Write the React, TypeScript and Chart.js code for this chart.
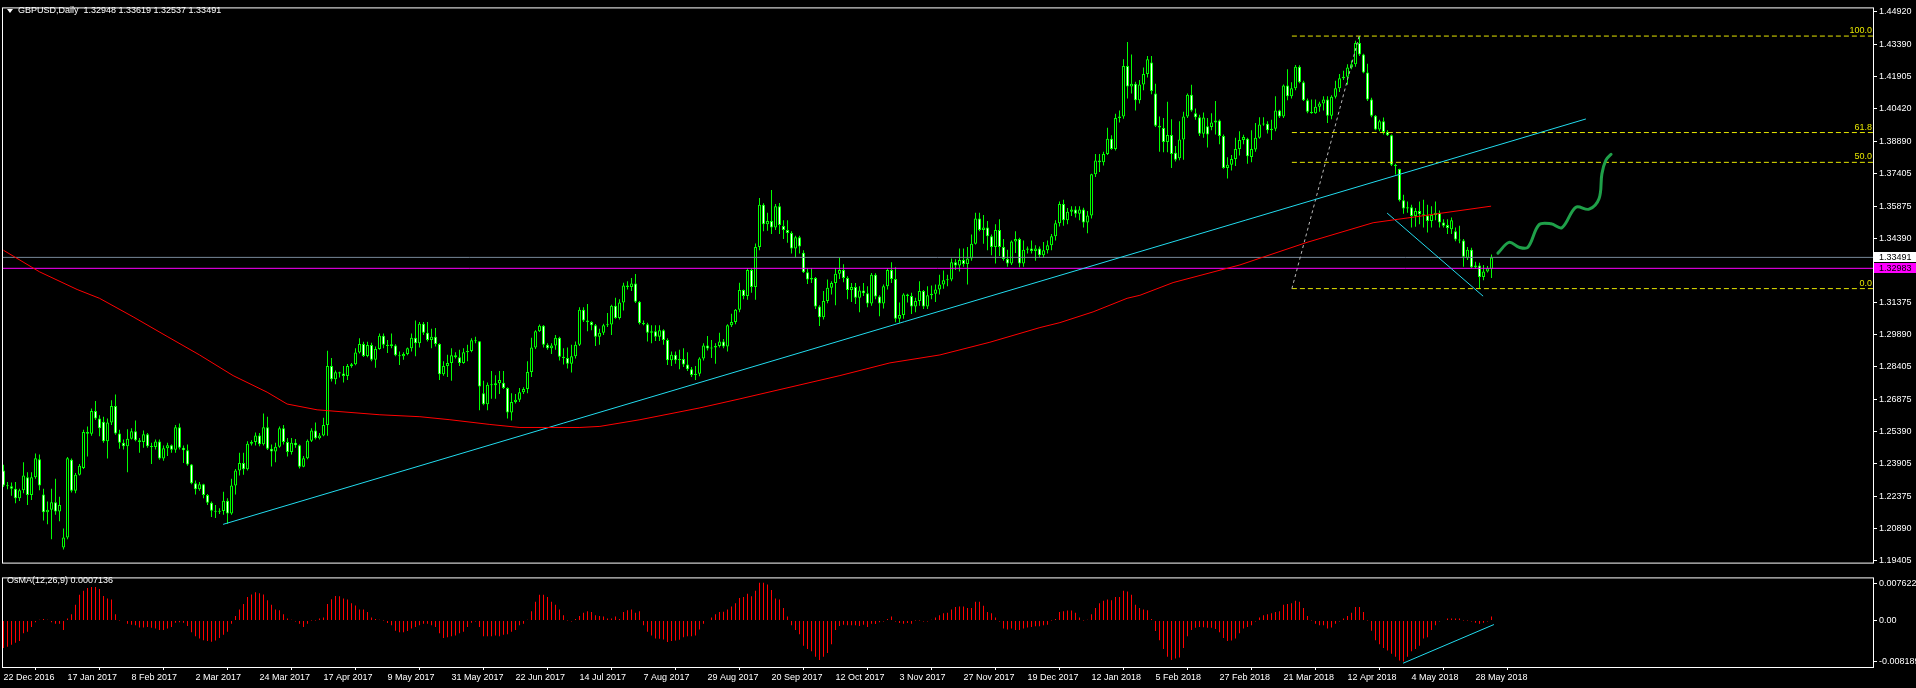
import React, { useEffect, useRef } from 'react';
import { Chart, registerables } from 'chart.js';

Chart.register(...registerables);

const W = 1916;
const MAIN_H = 570;
const OSMA_H = 118;
const AXIS_W = 43;
const X_MIN = -0.375;
const X_MAX = 467.375;
const FONT = "'Liberation Sans', Arial, sans-serif";

const headerText = 'GBPUSD,Daily  1.32948 1.33619 1.32537 1.33491';
const osmaTitle = 'OsMA(12,26,9) 0.0007136';

const dateLabels = ['22 Dec 2016', '17 Jan 2017', '8 Feb 2017', '2 Mar 2017', '24 Mar 2017', '17 Apr 2017', '9 May 2017', '31 May 2017', '22 Jun 2017', '14 Jul 2017', '7 Aug 2017', '29 Aug 2017', '20 Sep 2017', '12 Oct 2017', '3 Nov 2017', '27 Nov 2017', '19 Dec 2017', '12 Jan 2018', '5 Feb 2018', '27 Feb 2018', '21 Mar 2018', '12 Apr 2018', '4 May 2018', '28 May 2018'];
const dateStep = 16;

const priceTicks = [1.4492, 1.4339, 1.41905, 1.4042, 1.3889, 1.37405, 1.35875, 1.3439, 1.32875, 1.31375, 1.2989, 1.28405, 1.26875, 1.2539, 1.23905, 1.22375, 1.2089, 1.19405];
const osmaAxisLabels = ['0.007622', '0.00', '-0.008189'];
const osmaAxisTicks = [0.00662, 0, -0.00719];

const opens = [
  1.2359, 1.2290, 1.2286, 1.2275, 1.2230, 1.2268, 1.2328, 1.2245, 1.2328, 1.2412,
  1.2248, 1.2165, 1.2177, 1.2212, 1.2169, 1.2002, 1.2048, 1.2409, 1.2265, 1.2340,
  1.2371, 1.2538, 1.2530, 1.2636, 1.2601, 1.2586, 1.2495, 1.2582, 1.2659, 1.2531,
  1.2488, 1.2472, 1.2507, 1.2542, 1.2500, 1.2492, 1.2527, 1.2472, 1.2468, 1.2494,
  1.2415, 1.2462, 1.2477, 1.2456, 1.2560, 1.2465, 1.2453, 1.2387, 1.2300, 1.2272,
  1.2295, 1.2245, 1.2209, 1.2172, 1.2168, 1.2171, 1.2219, 1.2160, 1.2290, 1.2359,
  1.2394, 1.2365, 1.2484, 1.2491, 1.2522, 1.2481, 1.2560, 1.2460, 1.2447, 1.2469,
  1.2556, 1.2491, 1.2445, 1.2488, 1.2477, 1.2377, 1.2416, 1.2497, 1.2545, 1.2509,
  1.2522, 1.2571, 1.2845, 1.2783, 1.2815, 1.2810, 1.2798, 1.2844, 1.2853, 1.2907,
  1.2947, 1.2891, 1.2942, 1.2874, 1.2924, 1.2985, 1.2943, 1.2938, 1.2940, 1.2894,
  1.2890, 1.2900, 1.2927, 1.2976, 1.2950, 1.3041, 1.2999, 1.2965, 1.2980, 1.2947,
  1.2806, 1.2844, 1.2859, 1.2894, 1.2885, 1.2859, 1.2909, 1.2914, 1.2964, 1.2959,
  1.2718, 1.2667, 1.2758, 1.2755, 1.2764, 1.2767, 1.2742, 1.2629, 1.2677, 1.2688,
  1.2723, 1.2738, 1.2817, 1.2930, 1.3006, 1.3031, 1.2943, 1.2927, 1.2940, 1.2976,
  1.2887, 1.2882, 1.2855, 1.2890, 1.2943, 1.3106, 1.3056, 1.3049, 1.3034, 1.2980,
  1.2999, 1.3034, 1.3037, 1.3125, 1.3067, 1.3140, 1.3219, 1.3212, 1.3228, 1.3143,
  1.3044, 1.3038, 1.2999, 1.3006, 1.2980, 1.3011, 1.2965, 1.2871, 1.2897, 1.2871,
  1.2877, 1.2852, 1.2829, 1.2803, 1.2809, 1.2879, 1.2940, 1.2926, 1.2930, 1.2937,
  1.2958, 1.2935, 1.3034, 1.3049, 1.3106, 1.3197, 1.3170, 1.3291, 1.3212, 1.3397,
  1.3594, 1.3503, 1.3518, 1.3488, 1.3587, 1.3495, 1.3476, 1.3462, 1.3390, 1.3443,
  1.3371, 1.3280, 1.3246, 1.3253, 1.3121, 1.3071, 1.3147, 1.3208, 1.3230, 1.3273,
  1.3291, 1.3253, 1.3197, 1.3211, 1.3162, 1.3195, 1.3182, 1.3135, 1.3268, 1.3167,
  1.3135, 1.3215, 1.3291, 1.3249, 1.3064, 1.3082, 1.3177, 1.3170, 1.3121, 1.3147,
  1.3193, 1.3121, 1.3173, 1.3180, 1.3200, 1.3223, 1.3243, 1.3246, 1.3326, 1.3311,
  1.3337, 1.3318, 1.3344, 1.3412, 1.3530, 1.3476, 1.3488, 1.3447, 1.3397, 1.3476,
  1.3397, 1.3341, 1.3321, 1.3423, 1.3435, 1.3321, 1.3385, 1.3390, 1.3379, 1.3390,
  1.3359, 1.3382, 1.3405, 1.3447, 1.3508, 1.3597, 1.3521, 1.3561, 1.3572, 1.3552,
  1.3572, 1.3511, 1.3544, 1.3735, 1.3799, 1.3791, 1.3829, 1.3900, 1.3852, 1.3996,
  1.4003, 1.4238, 1.4143, 1.4155, 1.4079, 1.4152, 1.4201, 1.4254, 1.4110, 1.3961,
  1.3950, 1.3885, 1.3917, 1.3835, 1.3810, 1.3897, 1.4003, 1.4105, 1.4019, 1.4000,
  1.3923, 1.3958, 1.3955, 1.3976, 1.3985, 1.3913, 1.3764, 1.3779, 1.3806, 1.3852,
  1.3894, 1.3900, 1.3815, 1.3850, 1.3905, 1.3966, 1.3970, 1.3940, 1.3946, 1.4031,
  1.4003, 1.4147, 1.4097, 1.4135, 1.4235, 1.4163, 1.4079, 1.4026, 1.4019, 1.4049,
  1.4064, 1.4082, 1.4007, 1.4095, 1.4135, 1.4181, 1.4188, 1.4231, 1.4246, 1.4345,
  1.4292, 1.4208, 1.4082, 1.4007, 1.3943, 1.3981, 1.3931, 1.3916, 1.3779, 1.3760,
  1.3614, 1.3576, 1.3582, 1.3541, 1.3564, 1.3549, 1.3544, 1.3518, 1.3546, 1.3556,
  1.3511, 1.3500, 1.3480, 1.3470, 1.3432, 1.3427, 1.3345, 1.3385, 1.3303, 1.3311,
  1.3258, 1.3283, 1.32948,
];

const highs = [
  1.2386, 1.2306, 1.2303, 1.2306, 1.2275, 1.2397, 1.2351, 1.2351, 1.2438, 1.2434,
  1.2275, 1.2215, 1.2275, 1.2321, 1.2237, 1.2090, 1.2422, 1.2415, 1.2348, 1.2389,
  1.2548, 1.2563, 1.2647, 1.2682, 1.2616, 1.2609, 1.2601, 1.2685, 1.2712, 1.2548,
  1.2503, 1.2551, 1.2556, 1.2591, 1.2510, 1.2545, 1.2533, 1.2488, 1.2503, 1.2503,
  1.2475, 1.2488, 1.2480, 1.2571, 1.2578, 1.2475, 1.2480, 1.2389, 1.2313, 1.2306,
  1.2298, 1.2250, 1.2215, 1.2199, 1.2184, 1.2260, 1.2230, 1.2321, 1.2366, 1.2442,
  1.2442, 1.2495, 1.2500, 1.2536, 1.2533, 1.2624, 1.2609, 1.2480, 1.2488, 1.2563,
  1.2571, 1.2510, 1.2510, 1.2506, 1.2480, 1.2427, 1.2503, 1.2556, 1.2582, 1.2533,
  1.2604, 1.2915, 1.2882, 1.2824, 1.2818, 1.2844, 1.2854, 1.2859, 1.2927, 1.2973,
  1.2957, 1.2957, 1.2953, 1.2935, 1.2995, 1.2996, 1.2965, 1.2996, 1.2946, 1.2912,
  1.2909, 1.2930, 1.2996, 1.3056, 1.3049, 1.3049, 1.3049, 1.3018, 1.3021, 1.2950,
  1.2867, 1.2897, 1.2927, 1.2909, 1.2920, 1.2927, 1.2943, 1.2973, 1.2980, 1.2961,
  1.2776, 1.2768, 1.2821, 1.2802, 1.2821, 1.2821, 1.2746, 1.2718, 1.2715, 1.2742,
  1.2746, 1.2867, 1.2976, 1.3011, 1.3037, 1.3035, 1.2950, 1.2950, 1.2988, 1.2980,
  1.2927, 1.2930, 1.2943, 1.2958, 1.3117, 1.3117, 1.3132, 1.3052, 1.3040, 1.3018,
  1.3041, 1.3091, 1.3129, 1.3162, 1.3155, 1.3231, 1.3238, 1.3253, 1.3272, 1.3147,
  1.3056, 1.3046, 1.3034, 1.3034, 1.3034, 1.3015, 1.2973, 1.2912, 1.2912, 1.2920,
  1.2927, 1.2909, 1.2840, 1.2844, 1.2885, 1.2950, 1.2984, 1.2965, 1.2950, 1.2999,
  1.2970, 1.3038, 1.3087, 1.3109, 1.3231, 1.3200, 1.3299, 1.3300, 1.3413, 1.3625,
  1.3600, 1.3556, 1.3662, 1.3597, 1.3602, 1.3521, 1.3521, 1.3470, 1.3450, 1.3450,
  1.3382, 1.3299, 1.3299, 1.3258, 1.3127, 1.3193, 1.3246, 1.3238, 1.3299, 1.3347,
  1.3317, 1.3261, 1.3230, 1.3230, 1.3215, 1.3230, 1.3215, 1.3276, 1.3275, 1.3173,
  1.3223, 1.3299, 1.3327, 1.3303, 1.3139, 1.3182, 1.3180, 1.3185, 1.3162, 1.3238,
  1.3198, 1.3215, 1.3218, 1.3223, 1.3268, 1.3288, 1.3268, 1.3344, 1.3340, 1.3390,
  1.3390, 1.3397, 1.3455, 1.3556, 1.3556, 1.3546, 1.3518, 1.3455, 1.3503, 1.3526,
  1.3435, 1.3385, 1.3427, 1.3470, 1.3440, 1.3427, 1.3400, 1.3427, 1.3405, 1.3400,
  1.3420, 1.3427, 1.3458, 1.3521, 1.3609, 1.3617, 1.3579, 1.3587, 1.3587, 1.3587,
  1.3580, 1.3564, 1.3738, 1.3829, 1.3829, 1.3840, 1.3951, 1.3916, 1.4016, 1.4031,
  1.4269, 1.4349, 1.4292, 1.4165, 1.4173, 1.4231, 1.4284, 1.4284, 1.4155, 1.4003,
  1.3996, 1.4072, 1.3991, 1.3867, 1.3981, 1.4026, 1.4110, 1.4151, 1.4041, 1.4011,
  1.4022, 1.3996, 1.4019, 1.4076, 1.3990, 1.3920, 1.3814, 1.3825, 1.3905, 1.3935,
  1.3919, 1.3905, 1.3940, 1.3973, 1.4000, 1.4000, 1.3981, 1.3988, 1.4097, 1.4035,
  1.4152, 1.4223, 1.4163, 1.4243, 1.4242, 1.4170, 1.4087, 1.4082, 1.4082, 1.4072,
  1.4097, 1.4097, 1.4102, 1.4170, 1.4201, 1.4216, 1.4246, 1.4264, 1.4355, 1.4377,
  1.4295, 1.4249, 1.4091, 1.4010, 1.3988, 1.3999, 1.3940, 1.3920, 1.3784, 1.3761,
  1.3640, 1.3609, 1.3594, 1.3579, 1.3609, 1.3617, 1.3594, 1.3587, 1.3609, 1.3567,
  1.3526, 1.3526, 1.3534, 1.3488, 1.3496, 1.3435, 1.3397, 1.3394, 1.3329, 1.3324,
  1.3314, 1.3309, 1.33619,
];

const lows = [
  1.2283, 1.2272, 1.2242, 1.2207, 1.2218, 1.2253, 1.2199, 1.2222, 1.2321, 1.2268,
  1.2127, 1.2109, 1.2040, 1.2154, 1.2124, 1.1992, 1.2040, 1.2257, 1.2253, 1.2336,
  1.2366, 1.2424, 1.2521, 1.2594, 1.2518, 1.2488, 1.2415, 1.2571, 1.2525, 1.2460,
  1.2457, 1.2351, 1.2503, 1.2495, 1.2442, 1.2465, 1.2465, 1.2389, 1.2457, 1.2409,
  1.2404, 1.2427, 1.2442, 1.2442, 1.2457, 1.2394, 1.2381, 1.2295, 1.2248, 1.2265,
  1.2230, 1.2199, 1.2143, 1.2139, 1.2157, 1.2154, 1.2112, 1.2154, 1.2248, 1.2336,
  1.2339, 1.2359, 1.2475, 1.2475, 1.2472, 1.2475, 1.2454, 1.2378, 1.2397, 1.2465,
  1.2480, 1.2424, 1.2434, 1.2465, 1.2369, 1.2374, 1.2412, 1.2491, 1.2503, 1.2503,
  1.2518, 1.2521, 1.2773, 1.2760, 1.2791, 1.2768, 1.2779, 1.2836, 1.2848, 1.2903,
  1.2886, 1.2885, 1.2867, 1.2836, 1.2920, 1.2927, 1.2905, 1.2927, 1.2890, 1.2849,
  1.2874, 1.2894, 1.2912, 1.2890, 1.2930, 1.2988, 1.2958, 1.2927, 1.2935, 1.2779,
  1.2799, 1.2794, 1.2776, 1.2879, 1.2844, 1.2855, 1.2867, 1.2909, 1.2950, 1.2639,
  1.2662, 1.2639, 1.2692, 1.2692, 1.2715, 1.2738, 1.2601, 1.2591, 1.2670, 1.2677,
  1.2715, 1.2718, 1.2794, 1.2923, 1.3003, 1.2930, 1.2920, 1.2900, 1.2920, 1.2870,
  1.2852, 1.2833, 1.2814, 1.2879, 1.2938, 1.3049, 1.3006, 1.3011, 1.2938, 1.2943,
  1.2988, 1.3026, 1.2988, 1.3064, 1.3061, 1.3102, 1.3200, 1.3193, 1.3137, 1.3037,
  1.3034, 1.2958, 1.2950, 1.2961, 1.2961, 1.2943, 1.2849, 1.2844, 1.2855, 1.2829,
  1.2840, 1.2821, 1.2794, 1.2780, 1.2797, 1.2870, 1.2917, 1.2882, 1.2855, 1.2930,
  1.2927, 1.2912, 1.3026, 1.3038, 1.3094, 1.3155, 1.3152, 1.3185, 1.3152, 1.3382,
  1.3470, 1.3473, 1.3458, 1.3476, 1.3458, 1.3435, 1.3417, 1.3367, 1.3349, 1.3367,
  1.3276, 1.3226, 1.3230, 1.3109, 1.3030, 1.3060, 1.3136, 1.3177, 1.3127, 1.3249,
  1.3233, 1.3155, 1.3142, 1.3132, 1.3094, 1.3170, 1.3117, 1.3125, 1.3155, 1.3076,
  1.3112, 1.3200, 1.3230, 1.3048, 1.3045, 1.3064, 1.3139, 1.3086, 1.3094, 1.3124,
  1.3109, 1.3109, 1.3155, 1.3142, 1.3177, 1.3203, 1.3215, 1.3238, 1.3291, 1.3283,
  1.3306, 1.3223, 1.3333, 1.3409, 1.3470, 1.3412, 1.3382, 1.3359, 1.3321, 1.3355,
  1.3334, 1.3306, 1.3314, 1.3370, 1.3303, 1.3306, 1.3367, 1.3367, 1.3334, 1.3349,
  1.3349, 1.3367, 1.3382, 1.3427, 1.3493, 1.3496, 1.3503, 1.3541, 1.3534, 1.3521,
  1.3488, 1.3461, 1.3530, 1.3723, 1.3746, 1.3776, 1.3825, 1.3849, 1.3845, 1.3976,
  1.3993, 1.4087, 1.4110, 1.4031, 1.4064, 1.4125, 1.4185, 1.4107, 1.3955, 1.3840,
  1.3837, 1.3837, 1.3764, 1.3794, 1.3800, 1.3803, 1.3996, 1.4026, 1.3988, 1.3913,
  1.3905, 1.3860, 1.3940, 1.3920, 1.3875, 1.3761, 1.3716, 1.3753, 1.3773, 1.3822,
  1.3875, 1.3784, 1.3791, 1.3840, 1.3900, 1.3961, 1.3925, 1.3894, 1.3935, 1.3996,
  1.3996, 1.4079, 1.4087, 1.4125, 1.4158, 1.4076, 1.4019, 1.4016, 1.4016, 1.4026,
  1.4031, 1.3973, 1.3991, 1.4087, 1.4117, 1.4173, 1.4151, 1.4223, 1.4234, 1.4284,
  1.4204, 1.4076, 1.4000, 1.3940, 1.3935, 1.3920, 1.3913, 1.3773, 1.3734, 1.3609,
  1.3552, 1.3556, 1.3488, 1.3491, 1.3503, 1.3488, 1.3465, 1.3488, 1.3521, 1.3488,
  1.3488, 1.3458, 1.3458, 1.3424, 1.3415, 1.3306, 1.3337, 1.3299, 1.3298, 1.3204,
  1.3243, 1.3279, 1.32537,
];

const closes = [
  1.2290, 1.2286, 1.2275, 1.2230, 1.2268, 1.2336, 1.2245, 1.2328, 1.2416, 1.2290,
  1.2165, 1.2177, 1.2212, 1.2169, 1.2199, 1.2048, 1.2416, 1.2265, 1.2340, 1.2381,
  1.2538, 1.2530, 1.2636, 1.2601, 1.2556, 1.2495, 1.2582, 1.2659, 1.2531, 1.2488,
  1.2472, 1.2507, 1.2542, 1.2500, 1.2492, 1.2527, 1.2472, 1.2468, 1.2494, 1.2415,
  1.2462, 1.2477, 1.2456, 1.2560, 1.2465, 1.2453, 1.2387, 1.2300, 1.2272, 1.2295,
  1.2245, 1.2209, 1.2172, 1.2168, 1.2171, 1.2219, 1.2160, 1.2290, 1.2359, 1.2394,
  1.2365, 1.2484, 1.2491, 1.2522, 1.2481, 1.2560, 1.2460, 1.2447, 1.2469, 1.2556,
  1.2491, 1.2445, 1.2488, 1.2477, 1.2377, 1.2416, 1.2497, 1.2545, 1.2509, 1.2522,
  1.2571, 1.2845, 1.2783, 1.2815, 1.2810, 1.2798, 1.2844, 1.2853, 1.2907, 1.2947,
  1.2891, 1.2942, 1.2874, 1.2924, 1.2985, 1.2943, 1.2938, 1.2946, 1.2894, 1.2890,
  1.2900, 1.2927, 1.2976, 1.2950, 1.3041, 1.2999, 1.2965, 1.2980, 1.2947, 1.2806,
  1.2844, 1.2859, 1.2894, 1.2885, 1.2859, 1.2909, 1.2914, 1.2964, 1.2959, 1.2749,
  1.2667, 1.2758, 1.2755, 1.2764, 1.2780, 1.2742, 1.2629, 1.2677, 1.2688, 1.2723,
  1.2738, 1.2817, 1.2930, 1.3006, 1.3031, 1.2943, 1.2927, 1.2940, 1.2976, 1.2887,
  1.2882, 1.2855, 1.2890, 1.2943, 1.3106, 1.3056, 1.3049, 1.3034, 1.2980, 1.2999,
  1.3034, 1.3037, 1.3125, 1.3067, 1.3140, 1.3219, 1.3212, 1.3228, 1.3143, 1.3044,
  1.3038, 1.2999, 1.3006, 1.2980, 1.3011, 1.2965, 1.2871, 1.2897, 1.2871, 1.2877,
  1.2852, 1.2829, 1.2803, 1.2809, 1.2879, 1.2940, 1.2926, 1.2930, 1.2937, 1.2958,
  1.2935, 1.3034, 1.3049, 1.3106, 1.3197, 1.3170, 1.3291, 1.3212, 1.3397, 1.3594,
  1.3503, 1.3518, 1.3488, 1.3587, 1.3500, 1.3476, 1.3462, 1.3390, 1.3443, 1.3400,
  1.3280, 1.3246, 1.3253, 1.3121, 1.3071, 1.3147, 1.3208, 1.3230, 1.3273, 1.3291,
  1.3253, 1.3197, 1.3211, 1.3162, 1.3195, 1.3182, 1.3135, 1.3268, 1.3167, 1.3135,
  1.3215, 1.3291, 1.3249, 1.3064, 1.3082, 1.3177, 1.3170, 1.3121, 1.3147, 1.3193,
  1.3121, 1.3173, 1.3180, 1.3200, 1.3223, 1.3243, 1.3246, 1.3326, 1.3311, 1.3337,
  1.3318, 1.3344, 1.3412, 1.3530, 1.3476, 1.3488, 1.3447, 1.3397, 1.3476, 1.3397,
  1.3341, 1.3321, 1.3423, 1.3435, 1.3321, 1.3385, 1.3390, 1.3379, 1.3390, 1.3359,
  1.3382, 1.3405, 1.3447, 1.3508, 1.3597, 1.3521, 1.3561, 1.3572, 1.3552, 1.3572,
  1.3511, 1.3544, 1.3735, 1.3799, 1.3791, 1.3829, 1.3900, 1.3852, 1.3996, 1.4003,
  1.4238, 1.4143, 1.4155, 1.4079, 1.4152, 1.4201, 1.4269, 1.4122, 1.3961, 1.3952,
  1.3885, 1.3917, 1.3829, 1.3803, 1.3897, 1.4003, 1.4105, 1.4031, 1.4000, 1.3923,
  1.3999, 1.3920, 1.3976, 1.3985, 1.3913, 1.3764, 1.3779, 1.3806, 1.3852, 1.3894,
  1.3908, 1.3819, 1.3852, 1.3905, 1.3966, 1.3970, 1.3940, 1.3946, 1.4031, 1.4003,
  1.4147, 1.4097, 1.4135, 1.4235, 1.4163, 1.4079, 1.4026, 1.4019, 1.4049, 1.4064,
  1.4082, 1.4007, 1.4095, 1.4135, 1.4181, 1.4188, 1.4231, 1.4246, 1.4345, 1.4292,
  1.4208, 1.4082, 1.4007, 1.3943, 1.3981, 1.3931, 1.3916, 1.3779, 1.3773, 1.3614,
  1.3576, 1.3582, 1.3541, 1.3564, 1.3549, 1.3544, 1.3518, 1.3546, 1.3556, 1.3511,
  1.3496, 1.3485, 1.3521, 1.3432, 1.3427, 1.3352, 1.3385, 1.3303, 1.3311, 1.3258,
  1.3283, 1.3299, 1.33491,
];

const osmaValues = [
  -0.00484, -0.00461, -0.00428, -0.00389, -0.00361, -0.00222, -0.00195, -0.00111, -0.00028, 0.00017,
  0.00028, 0.00017, -0.00028, -0.00056, -0.00056, -0.00167, 0.00039, 0.00111, 0.00278, 0.00456,
  0.00528, 0.00573, 0.00595, 0.00595, 0.00556, 0.00434, 0.00389, 0.00373, 0.00111, 0.00003,
  -0.00006, -0.00056, -0.00072, -0.00083, -0.00122, -0.00122, -0.00111, -0.00128, -0.00139, -0.00167,
  -0.00167, -0.00139, -0.00111, -0.00039, -0.00028, -0.00039, -0.00095, -0.00206, -0.00278, -0.00317,
  -0.00345, -0.00361, -0.00373, -0.0035, -0.00306, -0.0025, -0.00195, -0.00056, 0.00083, 0.00195,
  0.00295, 0.00417, 0.00461, 0.005, 0.00484, 0.00461, 0.00361, 0.00278, 0.00195, 0.00183,
  0.00111, 0.00039, 0.00017, -0.00017, -0.00056, -0.00111, -0.00056, 0.00003, 0.00003, 0.00039,
  0.00056, 0.00295, 0.00378, 0.00434, 0.00428, 0.00389, 0.00373, 0.00306, 0.00267, 0.00195,
  0.00195, 0.0015, 0.00056, 0.00028, 0.00017, 0.00003, -0.00044, -0.00083, -0.00178, -0.00206,
  -0.00206, -0.00183, -0.00139, -0.00111, -0.00083, -0.00056, -0.00056, -0.00083, -0.00111, -0.00222,
  -0.00306, -0.00295, -0.00278, -0.00261, -0.00222, -0.00195, -0.00111, -0.00039, -0.00017, -0.00111,
  -0.00278, -0.00278, -0.00278, -0.00261, -0.00278, -0.0025, -0.00239, -0.00195, -0.00167, -0.00083,
  -0.00056, 0.00017, 0.00167, 0.00334, 0.00456, 0.00456, 0.00417, 0.00334, 0.00278, 0.00195,
  0.00095, 0.00003, -0.00017, 0.00028, 0.00083, 0.00139, 0.00167, 0.0015, 0.00095, 0.00083,
  0.00072, 0.00039, 0.00039, 0.00072, 0.00028, 0.0015, 0.00183, 0.00195, 0.00139, 0.00167,
  -0.00083, -0.00195, -0.00261, -0.00317, -0.00322, -0.00334, -0.00378, -0.00361, -0.0035, -0.00339,
  -0.00295, -0.00278, -0.00278, -0.00261, -0.00156, -0.00056, -0.00006, 0.00056, 0.00111, 0.0015,
  0.00156, 0.00195, 0.0025, 0.00306, 0.004, 0.00417, 0.00473, 0.00428, 0.00528, 0.00667,
  0.00667, 0.00639, 0.00539, 0.00389, 0.00373, 0.00222, 0.00072, -0.00083, -0.00167, -0.00239,
  -0.00445, -0.005, -0.00539, -0.00639, -0.00695, -0.00639, -0.00573, -0.00417, -0.00167, -0.00095,
  -0.00072, -0.00083, -0.00083, -0.00083, -0.00095, -0.00072, -0.00111, -0.00056, -0.00061, -0.00028,
  -0.00017, 0.00028, 0.00072, -0.00017, -0.00044, -0.00056, -0.00044, -0.00056, 0.00003, 0.00003,
  -0.00017, -0.00017, 0.00017, 0.00056, 0.00095, 0.00128, 0.00139, 0.00195, 0.00239, 0.0025,
  0.0025, 0.00222, 0.00222, 0.00334, 0.00334, 0.00261, 0.0015, 0.00128, 0.00056, -0.00017,
  -0.00139, -0.00156, -0.00139, -0.00167, -0.00167, -0.00139, -0.00122, -0.00111, -0.001, -0.001,
  -0.00083, -0.00072, 0.00003, 0.00028, 0.0015, 0.00167, 0.00178, 0.00178, 0.00139, 0.00056,
  0.00003, 0.00017, 0.00111, 0.00222, 0.00306, 0.0035, 0.00373, 0.00361, 0.00417, 0.00417,
  0.00528, 0.00512, 0.00456, 0.00278, 0.00222, 0.00195, 0.00183, 0.00028, -0.00183, -0.00345,
  -0.005, -0.00639, -0.00695, -0.00667, -0.00651, -0.00484, -0.00278, -0.00167, -0.00128, -0.00111,
  -0.00117, -0.00128, -0.00128, -0.0015, -0.00206, -0.00306, -0.00361, -0.0035, -0.00317, -0.00222,
  -0.00139, -0.00111, -0.00083, -0.00017, 0.00056, 0.00095, 0.00111, 0.00128, 0.0015, 0.00167,
  0.00278, 0.00295, 0.00306, 0.0035, 0.00334, 0.00222, 0.00083, 0.00003, -0.00056, -0.00083,
  -0.00083, -0.00139, -0.00122, -0.00056, -0.00017, 0.00039, 0.00083, 0.00139, 0.00239, 0.00239,
  0.0015, 0.00003, -0.00178, -0.00345, -0.00417, -0.00484, -0.00528, -0.00584, -0.00639, -0.00706,
  -0.00723, -0.00639, -0.00539, -0.005, -0.00445, -0.00317, -0.00295, -0.00167, -0.00083, -0.00017,
  -0.00006, 0.00039, 0.00039, 0.00039, 0.00039, 0.00003, 0.00003, -0.00017, -0.00039, -0.00056,
  -0.00039, -0.00017, 0.00071,
];

// 200-period moving average, sampled as [bar index, price]
const maPoints = [
  [0, 1.3382], [9, 1.3282], [18.4, 1.32], [24, 1.3159], [32.4, 1.3073], [40.9, 1.2982], [49, 1.2896],
  [57.4, 1.28], [65.9, 1.2723], [70.9, 1.2668], [78.4, 1.2641], [94.1, 1.2618], [104.1, 1.2609],
  [111.6, 1.2595], [121.6, 1.2573], [129.1, 1.2559], [144.1, 1.2559], [149.1, 1.2564], [159.1, 1.2595],
  [174.1, 1.265], [184.1, 1.2692], [209.1, 1.28], [221.6, 1.2859], [234.1, 1.2896], [246.6, 1.2955],
  [259.1, 1.3023], [264.1, 1.3046], [272.4, 1.3096], [280.9, 1.3159], [284.1, 1.3173], [292.4, 1.3232],
  [309.1, 1.3314], [325.9, 1.3419], [342.4, 1.351], [350.9, 1.3532], [371.9, 1.3587],
];

const trendLine = [[54.9, 1.2109], [395.6, 1.3992]];
const channelLine = [[345.9, 1.3555], [369.9, 1.3169]];
const osmaTrend = [[349.9, -0.00752], [372.6, -0.0007]];
const fibBase = [[322.1, 1.3204], [338.9, 1.4377]];
const fibStart = 322.1;
const fibLevels = [
  { label: '100.0', price: 1.4377 },
  { label: '61.8', price: 1.39289 },
  { label: '50.0', price: 1.37905 },
  { label: '0.0', price: 1.3204 },
];
const forecastPath = [
  [373.6, 1.3369], [376.4, 1.3419], [378.9, 1.3396], [381.1, 1.3396], [383.9, 1.3501], [386.9, 1.3505],
  [389.6, 1.3487], [393.1, 1.3582], [396.4, 1.3573], [398.9, 1.3623], [399.6, 1.3737], [400.6, 1.3801],
  [401.9, 1.3828],
];
const bidPrice = 1.33491;
const levelPrice = 1.32983;

const pts = (arr: number[][]) => arr.map(([x, y]) => ({ x, y }));
const hline = (p: number, x0: number) => [{ x: x0, y: p }, { x: X_MAX, y: p }];

const lineDs = (data: any, color: string, extra: any = {}) => ({
  type: 'line',
  data,
  borderColor: color,
  borderWidth: 1,
  pointRadius: 0,
  fill: false,
  tension: 0,
  order: 1,
  ...extra,
});

export default function App() {
  const mainRef = useRef<HTMLCanvasElement>(null);
  const osmaRef = useRef<HTMLCanvasElement>(null);

  useEffect(() => {
    document.body.style.margin = '0';
    document.body.style.background = '#000';

    const idx = closes.map((_, i) => i);

    const mainDecor = {
      id: 'mainDecor',
      afterDraw(chart: any) {
        const { ctx, chartArea } = chart;
        const { left, top, right, bottom } = chartArea;
        const y = chart.scales.y;
        ctx.save();
        ctx.strokeStyle = '#ffffff';
        ctx.lineWidth = 1;
        ctx.strokeRect(left + 0.5, top + 0.5, right - left, bottom - top);

        ctx.font = `9px ${FONT}`;
        ctx.fillStyle = '#e6e600';
        ctx.textAlign = 'right';
        ctx.textBaseline = 'bottom';
        fibLevels.forEach((f) => {
          ctx.fillText(f.label, right - 1, y.getPixelForValue(f.price) - 1);
        });

        const boxes: [number, string, string][] = [
          [bidPrice, '#ffffff', '#000000'],
          [levelPrice, '#ff00ff', '#000000'],
        ];
        boxes.forEach(([p, bg, fg]) => {
          const yy = Math.round(y.getPixelForValue(p));
          ctx.fillStyle = bg;
          ctx.fillRect(right + 1, yy - 5, W - right - 1, 10);
          ctx.fillStyle = fg;
          ctx.textAlign = 'left';
          ctx.textBaseline = 'middle';
          ctx.fillText(p.toFixed(5), right + 6, yy + 0.5);
        });

        ctx.fillStyle = '#ffffff';
        ctx.beginPath();
        ctx.moveTo(7, 9);
        ctx.lineTo(13, 9);
        ctx.lineTo(10, 13);
        ctx.closePath();
        ctx.fill();
        ctx.textAlign = 'left';
        ctx.textBaseline = 'middle';
        ctx.fillText(headerText, 18, 11);
        ctx.restore();
      },
    };

    const osmaDecor = {
      id: 'osmaDecor',
      afterDraw(chart: any) {
        const { ctx, chartArea } = chart;
        const { left, top, right, bottom } = chartArea;
        ctx.save();
        ctx.strokeStyle = '#ffffff';
        ctx.lineWidth = 1;
        ctx.strokeRect(left + 0.5, top + 0.5, right - left, bottom - top);
        ctx.font = `9px ${FONT}`;
        ctx.fillStyle = '#ffffff';
        ctx.textAlign = 'left';
        ctx.textBaseline = 'middle';
        ctx.fillText(osmaTitle, 7, 11);
        ctx.restore();
      },
    };

    const main = new Chart(mainRef.current as HTMLCanvasElement, {
      type: 'bar',
      data: {
        datasets: [
          {
            type: 'bar',
            data: idx.map((i) => ({ x: i, y: [lows[i], highs[i]] })),
            backgroundColor: '#00ff00',
            barThickness: 1,
            grouped: false,
            inflateAmount: 0,
            order: 3,
          },
          {
            type: 'bar',
            data: idx.map((i) => ({ x: i, y: [opens[i], closes[i]] })),
            backgroundColor: (c: any) => (closes[c.dataIndex] >= opens[c.dataIndex] ? '#000000' : '#ffffff'),
            borderColor: '#00ff00',
            borderWidth: 1,
            borderSkipped: false,
            barThickness: 3,
            grouped: false,
            minBarLength: 1,
            inflateAmount: 0,
            order: 2,
          },
          lineDs(pts(maPoints), '#ff0000'),
          lineDs(pts(trendLine), '#22dcef'),
          lineDs(pts(channelLine), '#22dcef'),
          lineDs(pts(fibBase), '#b8b8b8', { borderDash: [3, 3] }),
          ...fibLevels.map((f) => lineDs(hline(f.price, fibStart), '#e6e600', { borderDash: [5, 3] })),
          lineDs(hline(bidPrice, X_MIN), '#778899'),
          lineDs(hline(levelPrice, X_MIN), '#ff00ff'),
          lineDs(pts(forecastPath), '#1fa049', { borderWidth: 3, tension: 0.35, borderCapStyle: 'round', borderJoinStyle: 'round', order: 0 }),
        ] as any,
      },
      options: {
        animation: false,
        responsive: false,
        events: [],
        layout: { padding: { left: 2, top: 2, right: 0, bottom: 1 }, autoPadding: false } as any,
        plugins: { legend: { display: false }, tooltip: { enabled: false } },
        scales: {
          x: { type: 'linear', min: X_MIN, max: X_MAX, offset: false, display: false },
          y: {
            type: 'linear',
            position: 'right',
            min: 1.19314,
            max: 1.45102,
            beginAtZero: false,
            afterFit: (s: any) => { s.width = AXIS_W; },
            afterBuildTicks: (s: any) => { s.ticks = priceTicks.map((v) => ({ value: v })); },
            grid: { drawOnChartArea: false, drawTicks: true, tickLength: 4, color: '#ffffff' },
            border: { display: false },
            ticks: {
              color: '#ffffff',
              font: { family: FONT, size: 9 },
              padding: 2,
              autoSkip: false,
              callback: (v: any) => Number(v).toFixed(5),
            },
          },
        },
      } as any,
      plugins: [mainDecor],
    });

    const osma = new Chart(osmaRef.current as HTMLCanvasElement, {
      type: 'bar',
      data: {
        datasets: [
          {
            type: 'bar',
            data: idx.map((i) => ({ x: i, y: osmaValues[i] })),
            backgroundColor: '#ff0000',
            barThickness: 1,
            grouped: false,
            inflateAmount: 0,
            order: 2,
          },
          lineDs(pts(osmaTrend), '#22dcef'),
        ] as any,
      },
      options: {
        animation: false,
        responsive: false,
        events: [],
        layout: { padding: { left: 2, top: 2, right: 0, bottom: 0 }, autoPadding: false } as any,
        plugins: { legend: { display: false }, tooltip: { enabled: false } },
        scales: {
          x: {
            type: 'linear',
            min: X_MIN,
            max: X_MAX,
            offset: false,
            position: 'bottom',
            afterFit: (s: any) => { s.height = 21; },
            afterBuildTicks: (s: any) => { s.ticks = dateLabels.map((_, k) => ({ value: k * dateStep })); },
            grid: { drawOnChartArea: false, drawTicks: true, tickLength: 3, color: '#ffffff' },
            border: { display: false },
            ticks: {
              color: '#ffffff',
              font: { family: FONT, size: 9 },
              padding: 2,
              align: 'start',
              autoSkip: false,
              maxRotation: 0,
              minRotation: 0,
              callback: (v: any) => dateLabels[Math.round(Number(v) / dateStep)] ?? '',
            },
          },
          y: {
            type: 'linear',
            position: 'right',
            min: -0.008189,
            max: 0.007622,
            beginAtZero: false,
            afterFit: (s: any) => { s.width = AXIS_W; },
            afterBuildTicks: (s: any) => { s.ticks = osmaAxisTicks.map((v) => ({ value: v })); },
            grid: { drawOnChartArea: false, drawTicks: true, tickLength: 4, color: '#ffffff' },
            border: { display: false },
            ticks: {
              color: '#ffffff',
              font: { family: FONT, size: 9 },
              padding: 2,
              autoSkip: false,
              callback: (_v: any, i: number) => osmaAxisLabels[i],
            },
          },
        },
      } as any,
      plugins: [osmaDecor],
    });

    return () => {
      main.destroy();
      osma.destroy();
    };
  }, []);

  return (
    <div style={{ position: 'relative', width: W, height: 688, background: '#000', overflow: 'hidden' }}>
      <canvas ref={mainRef} width={W} height={MAIN_H} style={{ position: 'absolute', left: 0, top: 0, display: 'block' }} />
      <canvas ref={osmaRef} width={W} height={OSMA_H} style={{ position: 'absolute', left: 0, top: MAIN_H, display: 'block' }} />
    </div>
  );
}
